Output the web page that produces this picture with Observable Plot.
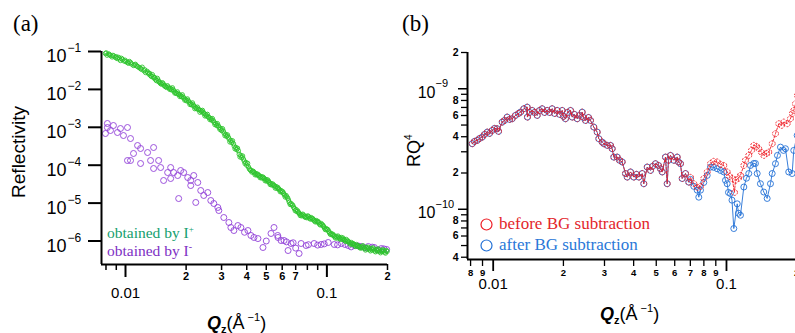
<!DOCTYPE html>
<html><head><meta charset="utf-8">
<script src="https://cdn.jsdelivr.net/npm/d3@7"></script>
<script src="https://cdn.jsdelivr.net/npm/@observablehq/plot@0.6"></script>
<style>
html,body{margin:0;padding:0;background:#fff;overflow:hidden;width:795px;height:333px;}
#pa{position:absolute;left:0;top:0;width:395px;height:333px;}
#pb{position:absolute;left:395px;top:0;width:410px;height:333px;}
</style></head><body><div id="pa"></div><div id="pb"></div>
<script>
// ---------- Panel (a) data ----------
const greenQ = [0.00795,0.00810,0.00825,0.00842,0.00858,0.00875,0.00892,0.00910,0.00925,0.00944,0.00965,0.00985,0.01005,0.01023,0.01045,0.01070,0.01096,0.01120,0.01150,0.01188,0.01210,0.01235,0.01258,0.01280,0.01305,0.01332,0.01360,0.01385,0.01411,0.01440,0.01465,0.01494,0.01525,0.01555,0.01582,0.01615,0.01645,0.01676,0.01710,0.01740,0.01775,0.01810,0.01845,0.01879,0.01915,0.01950,0.01991,0.02030,0.02070,0.02108,0.02150,0.02190,0.02233,0.02275,0.02320,0.02364,0.02410,0.02455,0.02504,0.02550,0.02600,0.02652,0.02700,0.02755,0.02808,0.02860,0.02915,0.02974,0.03030,0.03090,0.03150,0.03210,0.03270,0.03336,0.03400,0.03465,0.03533,0.03600,0.03670,0.03741,0.03815,0.03890,0.03962,0.04040,0.04120,0.04196,0.04280,0.04360,0.04444,0.04530,0.04620,0.04706,0.04800,0.04890,0.04985,0.05080,0.05180,0.05279,0.05380,0.05490,0.05590,0.05700,0.05810,0.05921,0.06040,0.06150,0.06270,0.06390,0.06510,0.06640,0.06770,0.06900,0.07032,0.07170,0.07300,0.07447,0.07590,0.07740,0.07887,0.08040,0.08200,0.08352,0.08510,0.08680,0.08845,0.09020,0.09190,0.09368,0.09550,0.09730,0.09920,0.1011,0.1031,0.1051,0.1072,0.1092,0.1113,0.1135,0.1157,0.1179,0.1202,0.1225,0.1248,0.1273,0.1297,0.1322,0.1348,0.1374,0.1400,0.1427,0.1455,0.1482,0.1511,0.1540,0.1570,0.1600,0.1631,0.1662,0.1695,0.1728,0.1761,0.1795,0.1830,0.1865,0.1900,0.1937,0.1975];
const greenR = [0.0885,0.0800,0.0860,0.0784,0.0720,0.0760,0.0695,0.0650,0.0700,0.0579,0.0620,0.0560,0.0540,0.0513,0.0545,0.0470,0.0428,0.0460,0.0400,0.0356,0.0385,0.0310,0.0279,0.0300,0.0255,0.0233,0.0245,0.0200,0.0182,0.0195,0.0160,0.0143,0.0150,0.0128,0.0119,0.0125,0.0108,0.01057,0.0110,0.0090,0.00828,0.0086,0.0073,0.00690,0.0072,0.0059,0.00542,0.0056,0.0046,0.00425,0.0044,0.0036,0.00333,0.0034,0.0029,0.00277,0.0028,0.0023,0.00218,0.0022,0.0018,0.00171,0.0017,0.00135,0.00126,0.00125,0.00100,0.000929,0.00092,0.00070,0.000645,0.00063,0.00049,0.000449,0.00044,0.00032,0.000293,0.00028,0.000195,0.000180,0.000175,0.000128,0.0001178,0.000112,0.000080,7.24e-5,7.0e-5,6.3e-5,6.04e-5,5.8e-5,5.2e-5,5.04e-5,4.9e-5,4.4e-5,4.20e-5,4.1e-5,3.5e-5,3.29e-5,3.2e-5,2.85e-5,2.74e-5,2.6e-5,2.25e-5,2.15e-5,2.0e-5,1.65e-5,1.59e-5,1.35e-5,1.05e-5,9.76e-6,8.8e-6,7.2e-6,6.78e-6,6.2e-6,5.3e-6,5.00e-6,5.1e-6,4.5e-6,4.43e-6,4.6e-6,4.0e-6,4.17e-6,3.9e-6,3.4e-6,3.48e-6,3.3e-6,2.8e-6,2.90e-6,2.6e-6,2.2e-6,2.14e-6,2.0e-6,1.65e-6,1.58e-6,1.5e-6,1.3e-6,1.32e-6,1.35e-6,1.18e-6,1.24e-6,1.2e-6,1.05e-6,1.10e-6,1.0e-6,8.8e-7,9.13e-7,8.6e-7,7.6e-7,8.09e-7,7.6e-7,6.8e-7,7.16e-7,7.5e-7,6.4e-7,6.74e-7,6.9e-7,5.9e-7,6.34e-7,6.6e-7,5.5e-7,5.97e-7,6.2e-7,5.3e-7,5.61e-7,5.9e-7,5.1e-7,5.61e-7];
// second, interleaved scan of the dense green band
const greenQ2 = [0.00802,0.00833,0.00866,0.00900,0.00935,0.00955,0.00995,0.01035,0.01060,0.01108,0.01135,0.01170,0.01200,0.01245,0.01292,0.01318,0.01345,0.01372,0.01398,0.01425,0.01452,0.01480,0.01510,0.01540,0.01568,0.01598,0.01630,0.01660,0.01693,0.01725,0.01758,0.01792,0.01828,0.01862,0.01897,0.01932,0.01970,0.02010,0.02050,0.02090,0.02130,0.02170,0.02210,0.02255,0.02298,0.02342,0.02388,0.02432,0.02480,0.02525,0.02575,0.02625,0.02675,0.02728,0.02780,0.02835,0.02888,0.02945,0.03000,0.03060,0.03120,0.03180,0.03240,0.03300,0.03370,0.03435,0.03500,0.03565,0.03635,0.03705,0.03780,0.03850,0.03925,0.04000,0.04080,0.04160,0.04240,0.04320,0.04400,0.04490,0.04575,0.04660,0.04750,0.04845,0.04935,0.05030,0.05130,0.05230,0.05330,0.05435,0.05540,0.05645,0.05755,0.05865,0.05980,0.06095,0.06210,0.06330,0.06450,0.06575,0.06700,0.06835,0.06965,0.07100,0.07235,0.07375,0.07515,0.07665,0.07815,0.07965,0.08120,0.08275,0.08430,0.08595,0.08760,0.08930,0.09105,0.09280,0.09460,0.09640,0.09825,0.1001,0.1021,0.1041,0.1061,0.1082,0.1103,0.1124,0.1146,0.1168,0.1190,0.1213,0.1236,0.1260,0.1285,0.1310,0.1335,0.1361,0.1387,0.1414,0.1441,0.1468,0.1497,0.1525,0.1555,0.1585,0.1615,0.1646,0.1678,0.1711,0.1744,0.1778,0.1812,0.1847,0.1882,0.1918,0.1955,0.1990];
const greenR2 = [0.0920,0.0830,0.0790,0.0730,0.0640,0.0660,0.0590,0.0490,0.0510,0.0445,0.0420,0.0375,0.0340,0.0330,0.0275,0.0265,0.0220,0.0215,0.0205,0.0170,0.0175,0.0152,0.0138,0.0140,0.0122,0.0113,0.0115,0.0100,0.0097,0.0098,0.0080,0.0078,0.0076,0.0065,0.0064,0.0063,0.0052,0.0050,0.0050,0.0040,0.0039,0.0039,0.0031,0.0031,0.0030,0.0025,0.0026,0.0025,0.0020,0.0020,0.0019,0.0016,0.00155,0.00150,0.00118,0.00112,0.00110,0.00088,0.00082,0.00080,0.00060,0.00058,0.00055,0.00041,0.00040,0.00037,0.00027,0.00026,0.00024,0.000165,0.000160,0.000145,0.000110,0.000100,9.0e-5,7.6e-5,6.6e-5,6.8e-5,5.6e-5,5.5e-5,5.5e-5,4.7e-5,4.6e-5,4.7e-5,3.9e-5,3.8e-5,3.8e-5,3.1e-5,3.0e-5,3.0e-5,2.5e-5,2.45e-5,2.4e-5,2.0e-5,1.95e-5,1.8e-5,1.45e-5,1.45e-5,1.2e-5,9.2e-6,9.0e-6,7.8e-6,6.3e-6,6.0e-6,5.6e-6,4.7e-6,4.6e-6,4.8e-6,4.2e-6,4.1e-6,4.4e-6,3.8e-6,3.8e-6,3.6e-6,3.2e-6,3.2e-6,3.1e-6,2.65e-6,2.7e-6,2.4e-6,2.0e-6,2.0e-6,1.8e-6,1.5e-6,1.45e-6,1.4e-6,1.2e-6,1.2e-6,1.25e-6,1.1e-6,1.12e-6,1.1e-6,9.8e-7,9.9e-7,9.4e-7,8.2e-7,8.3e-7,8.2e-7,7.2e-7,7.3e-7,7.2e-7,6.5e-7,6.6e-7,6.9e-7,5.8e-7,6.1e-7,6.4e-7,5.5e-7,5.8e-7,6.1e-7,5.2e-7,5.5e-7,5.8e-7,4.9e-7,5.3e-7,5.5e-7,4.8e-7,5.3e-7];

const purpleQ = [0.00795,0.00813,0.00813,0.00842,0.00871,0.00912,0.00944,0.00977,0.01023,0.01023,0.01059,0.01096,0.01059,0.01148,0.01188,0.01188,0.01287,0.01332,0.01379,0.01379,0.01460,0.01494,0.01546,0.01619,0.01676,0.01676,0.01735,0.01816,0.01837,0.01879,0.01945,0.02037,0.02108,0.02182,0.02108,0.02233,0.02285,0.02364,0.02447,0.02562,0.02652,0.02745,0.02874,0.02907,0.03078,0.03261,0.03336,0.03453,0.03614,0.03741,0.0390,0.04054,0.04196,0.04343,0.04547,0.04816,0.0500,0.05279,0.05463,0.0570,0.05719,0.05921,0.06128,0.0630,0.06416,0.06640,0.0680,0.0700,0.07278,0.07447,0.07887,0.0810,0.08644,0.0900,0.09368,0.0970,0.1015,0.1088,0.1130,0.1179,0.1230,0.1277,0.1320,0.1368,0.1430,0.1482,0.1550,0.1606,0.1680,0.1721,0.1800,0.1865,0.1920,0.1980];
const purpleR = [6.86e-4,1.26e-3,9.88e-4,8.23e-4,1.115e-3,7.29e-4,9.29e-4,6.07e-4,9.88e-4,1.33e-4,5.06e-4,2.04e-4,1.33e-4,3.31e-4,2.76e-4,1.11e-4,2.16e-4,1.33e-4,2.93e-4,8.18e-5,1.33e-4,8.69e-5,3.95e-5,6.41e-5,8.69e-5,4.46e-5,6.41e-5,5.35e-5,1.32e-5,7.24e-5,6.41e-5,4.73e-5,3.95e-5,5.35e-5,2.91e-5,1.04e-5,3.50e-5,2.15e-5,1.59e-5,1.90e-5,1.17e-5,9.76e-6,7.66e-6,6.38e-6,4.17e-6,3.08e-6,2.27e-6,1.89e-6,2.56e-6,2.27e-6,1.7e-6,1.89e-6,1.40e-6,1.24e-6,1.16e-6,6.74e-7,1.0e-6,1.58e-6,2.27e-6,1.4e-6,1.24e-6,1.03e-6,1.03e-6,9.5e-7,5.61e-7,8.59e-7,9.0e-7,6.5e-7,4.68e-7,8.59e-7,7.61e-7,8.0e-7,8.59e-7,7.8e-7,8.09e-7,8.4e-7,9.13e-7,8.09e-7,7.9e-7,8.59e-7,8.1e-7,7.61e-7,7.0e-7,7.61e-7,7.4e-7,7.16e-7,6.6e-7,7.16e-7,6.9e-7,6.74e-7,5.8e-7,6.34e-7,6.2e-7,5.97e-7];

const yMajorA = [1e-1,1e-2,1e-3,1e-4,1e-5,1e-6];
const yExpA = ["\u22121","\u22122","\u22123","\u22124","\u22125","\u22126"];
const xMajorA = [0.01,0.1];
const xMajorLabA = ["0.01","0.1"];
const xMinorA = [0.008,0.009,0.02,0.03,0.04,0.05,0.06,0.07,0.08,0.09,0.2];
const xMinorLabA = ["","","2","3","4","5","6","7","","","2"];

// ---------- Panel (b) data ----------
const commonQ = [0.00813,0.00831,0.00854,0.00874,0.00897,0.00918,0.00943,0.00964,0.00990,0.01013,0.01040,0.01054,0.01093,0.01118,0.01148,0.01175,0.01206,0.01246,0.01284,0.01309,0.01353,0.01399,0.01402,0.01431,0.01470,0.01503,0.01544,0.01579,0.01622,0.01659,0.01704,0.01743,0.01790,0.01832,0.01881,0.01924,0.01976,0.02001,0.02041,0.02082,0.02145,0.02181,0.02231,0.02292,0.02344,0.02407,0.02439,0.02487,0.02562,0.02613,0.02699,0.02791,0.02836,0.02932,0.02980,0.03081,0.03183,0.03237,0.03288,0.03401,0.03479,0.03572,0.03691,0.03754,0.03878,0.04006,0.04114,0.04209,0.04353,0.04421,0.04573,0.04724,0.04818,0.04963,0.05111,0.05214,0.05302,0.05477,0.05570,0.05642,0.05754,0.05944,0.06148,0.06226,0.06351,0.06458,0.06673,0.06893];
const commonV = [3.50e-10,3.66e-10,3.73e-10,3.87e-10,3.97e-10,4.18e-10,4.37e-10,4.26e-10,4.51e-10,4.69e-10,4.66e-10,4.43e-10,5.29e-10,5.46e-10,5.82e-10,5.57e-10,5.64e-10,6.01e-10,6.24e-10,6.40e-10,6.83e-10,7.04e-10,5.82e-10,6.36e-10,6.61e-10,6.36e-10,6.01e-10,6.61e-10,6.83e-10,6.36e-10,6.61e-10,6.36e-10,6.83e-10,6.24e-10,6.61e-10,6.13e-10,6.61e-10,5.90e-10,5.64e-10,6.36e-10,6.61e-10,5.82e-10,6.13e-10,5.64e-10,6.01e-10,6.40e-10,5.78e-10,5.46e-10,5.78e-10,5.46e-10,4.81e-10,4.37e-10,3.85e-10,3.61e-10,3.50e-10,3.39e-10,3.39e-10,3.18e-10,2.71e-10,2.71e-10,2.55e-10,2.47e-10,1.98e-10,1.85e-10,2.04e-10,1.85e-10,1.95e-10,1.85e-10,1.98e-10,1.63e-10,2.24e-10,2.10e-10,2.27e-10,2.39e-10,2.31e-10,2.17e-10,2.04e-10,2.71e-10,1.63e-10,2.55e-10,2.80e-10,2.55e-10,2.71e-10,2.47e-10,2.39e-10,1.80e-10,1.98e-10,1.68e-10];
const redTailQ = [0.07010,0.07242,0.07490,0.07737,0.07994,0.08267,0.08540,0.08798,0.09124,0.09427,0.09736,0.1007,0.1030,0.1058,0.1082,0.1093,0.1126,0.1148,0.1187,0.1206,0.1246,0.1280,0.1309,0.1345,0.1375,0.1413,0.1445,0.1484,0.1518,0.1570,0.1622,0.1676,0.1721,0.1760,0.1820,0.1880,0.1918,0.1943,0.1976,0.2015];
const redTailV = [1.84e-10,1.63e-10,1.52e-10,1.55e-10,1.80e-10,2.04e-10,2.39e-10,2.50e-10,2.47e-10,2.36e-10,2.31e-10,2.04e-10,1.88e-10,1.80e-10,1.38e-10,1.74e-10,1.81e-10,1.91e-10,2.31e-10,2.55e-10,2.80e-10,3.08e-10,3.39e-10,3.33e-10,3.18e-10,2.97e-10,2.80e-10,2.91e-10,2.98e-10,3.50e-10,4.24e-10,5.13e-10,4.97e-10,5.29e-10,5.13e-10,5.64e-10,6.24e-10,6.61e-10,7.51e-10,8.80e-10];
const blueTailQ = [0.07010,0.07242,0.07490,0.07609,0.07737,0.07994,0.08267,0.08540,0.08798,0.09124,0.09427,0.09736,0.09902,0.1007,0.1020,0.1040,0.1056,0.1075,0.1112,0.1126,0.1148,0.1187,0.1218,0.1246,0.1267,0.1309,0.1331,0.1354,0.1398,0.1445,0.1494,0.1544,0.1570,0.1622,0.1654,0.1704,0.1755,0.1790,0.1849,0.1912,0.1943,0.2009];
const blueTailV = [1.77e-10,1.55e-10,1.44e-10,1.26e-10,1.44e-10,1.67e-10,1.91e-10,2.24e-10,2.23e-10,2.17e-10,2.10e-10,2.04e-10,1.74e-10,1.63e-10,1.38e-10,1.35e-10,1.19e-10,6.92e-11,1.11e-10,9.27e-11,8.92e-11,1.53e-10,1.81e-10,1.98e-10,2.31e-10,2.40e-10,2.40e-10,1.98e-10,1.63e-10,1.39e-10,1.23e-10,1.63e-10,1.98e-10,2.39e-10,2.80e-10,3.28e-10,3.08e-10,3.18e-10,2.04e-10,1.98e-10,3.08e-10,4.10e-10];

const yMajorB = [1e-9,1e-10];
const yExpB = ["\u22129","\u221210"];
const yMinorB = [4e-11,5e-11,6e-11,7e-11,8e-11,9e-11,2e-10,3e-10,4e-10,5e-10,6e-10,7e-10,8e-10,9e-10,2e-9];
const yMinorLabB = ["4","","6","","8","","2","","4","","6","","8","","2"];
const xMajorB = [0.01,0.1];
const xMajorLabB = ["0.01","0.1"];
const xMinorB = [0.008,0.009,0.02,0.03,0.04,0.05,0.06,0.07,0.08,0.09,0.2];
const xMinorLabB = ["8","9","2","3","4","5","6","7","8","9","2"];

// ---------- colours ----------
const cGreen = "#2ec42e", cPurple = "#9242d8";
const cGreenTxt = "#14a06e", cPurpleTxt = "#7e30c4";
const cRed = "#ee1c24", cBlue = "#2270d6";
const cRedTxt = "#e3262b", cBlueTxt = "#2a78d8";

const SANS = "'Liberation Sans', Arial, sans-serif";
const SERIF = "'Liberation Serif', 'Times New Roman', serif";

const green = greenQ.map((q, i) => ({q, v: greenR[i]})).concat(greenQ2.map((q, i) => ({q, v: greenR2[i]})));
const purple = purpleQ.map((q, i) => ({q, v: purpleR[i]}));
const redV = commonV.concat(redTailV), blueV = commonV.concat(blueTailV);
const red = commonQ.concat(redTailQ).map((q, i) => ({q, v: redV[i]}));
const blue = commonQ.concat(blueTailQ).map((q, i) => ({q, v: blueV[i]}));

const xDomA = [0.0076, 0.2], yDomA = [2.4e-7, 0.1];
const xDomB = [0.00776, 0.2], yDomB = [3.83e-11, 2e-9];

const plotA = Plot.plot({
  width: 395, height: 333,
  marginLeft: 101, marginRight: 8, marginTop: 51, marginBottom: 69,
  style: {fontFamily: SANS, background: "transparent", color: "#000"},
  x: {type: "log", domain: xDomA, axis: null},
  y: {type: "log", domain: yDomA, axis: null},
  marks: [
    Plot.dot(purple, {x: "q", y: "v", r: 3, stroke: cPurple, fill: "none", strokeWidth: 0.9}),
    Plot.dot(green, {x: "q", y: "v", r: 2.2, stroke: cGreen, fill: "none", strokeWidth: 0.9}),
    Plot.ruleX([xDomA[0]], {strokeWidth: 2}),
    Plot.ruleY([yDomA[0]], {strokeWidth: 2}),
    Plot.axisY({ticks: yMajorA, tickSize: 13, strokeWidth: 2, tickFormat: () => "", label: null}),
    Plot.text(yMajorA, {y: d => d, frameAnchor: "left", textAnchor: "end", dx: -35, dy: 5, text: () => "10", fontSize: 18}),
    Plot.text(yMajorA, {y: d => d, frameAnchor: "left", textAnchor: "start", dx: -34, dy: -3, text: (d, i) => yExpA[i], fontSize: 12}),
    Plot.axisX({ticks: xMajorA, tickSize: 13, strokeWidth: 2, tickFormat: () => "", label: null}),
    Plot.axisX({ticks: xMinorA, tickSize: 6, strokeWidth: 1.5, tickFormat: () => "", label: null}),
    Plot.text(xMinorA, {x: d => d, frameAnchor: "bottom", dy: 15.5, text: (d, i) => xMinorLabA[i], fontSize: 11, fontWeight: "bold"}),
    Plot.text(xMajorA, {x: d => d, frameAnchor: "bottom", dy: 33, text: (d, i) => xMajorLabA[i], fontSize: 15})
  ]
});
document.getElementById("pa").appendChild(plotA);

const plotB = Plot.plot({
  width: 410, height: 333,
  marginLeft: 72, marginRight: 8.8, marginTop: 52, marginBottom: 74,
  style: {fontFamily: SANS, background: "transparent", color: "#000"},
  x: {type: "log", domain: xDomB, axis: null},
  y: {type: "log", domain: yDomB, axis: null},
  marks: [
    Plot.line(blue, {x: "q", y: "v", stroke: cBlue, strokeWidth: 0.9}),
    Plot.dot(blue, {x: "q", y: "v", r: 3, stroke: cBlue, fill: "none", strokeWidth: 0.9}),
    Plot.line(red, {x: "q", y: "v", stroke: cRed, strokeWidth: 0.9, strokeDasharray: "2.5,1.5"}),
    Plot.dot(red, {x: "q", y: "v", r: 3, stroke: cRed, fill: "none", strokeWidth: 0.9, strokeDasharray: "2,1.2"}),
    Plot.ruleX([xDomB[0]], {strokeWidth: 2}),
    Plot.ruleY([yDomB[0]], {strokeWidth: 2}),
    Plot.axisY({ticks: yMajorB, tickSize: 9, strokeWidth: 1.5, tickFormat: () => "", label: null}),
    Plot.axisY({ticks: yMinorB, tickSize: 6, strokeWidth: 1.3, tickFormat: () => "", label: null}),
    Plot.text(yMajorB, {y: d => d, frameAnchor: "left", textAnchor: "end", dx: -32, dy: 4, text: () => "10", fontSize: 16}),
    Plot.text(yMajorB, {y: d => d, frameAnchor: "left", textAnchor: "start", dx: -32, dy: -5, text: (d, i) => yExpB[i], fontSize: 11}),
    Plot.text(yMinorB, {y: d => d, frameAnchor: "left", textAnchor: "end", dx: -9, dy: 0, text: (d, i) => yMinorLabB[i], fontSize: 10.5, fontWeight: "bold"}),
    Plot.axisX({ticks: xMajorB, tickSize: 12, strokeWidth: 1.8, tickFormat: () => "", label: null}),
    Plot.axisX({ticks: xMinorB, tickSize: 7, strokeWidth: 1.3, tickFormat: () => "", label: null}),
    Plot.text(xMinorB, {x: d => d, frameAnchor: "bottom", dy: 16, text: (d, i) => xMinorLabB[i], fontSize: 9.5, fontWeight: "bold"}),
    Plot.text(xMajorB, {x: d => d, frameAnchor: "bottom", dy: 29, text: (d, i) => xMajorLabB[i], fontSize: 15}),
    Plot.dot([0], {frameAnchor: "bottom-left", dx: 19, dy: -35, r: 5.5, stroke: cRed, fill: "none", strokeWidth: 1.2}),
    Plot.dot([0], {frameAnchor: "bottom-left", dx: 19, dy: -14, r: 5.5, stroke: cBlue, fill: "none", strokeWidth: 1.2})
  ]
});
document.getElementById("pb").appendChild(plotB);

// ---------- composite texts (super/subscripts) ----------
function addText(svg, x, y, parts, base, rotate) {
  const t = d3.select(svg).append("text")
    .attr("font-family", base.family || SANS)
    .attr("fill", base.fill || "#000")
    .attr("text-anchor", base.anchor || "start");
  if (rotate) t.attr("transform", `translate(${x},${y}) rotate(-90)`).attr("x", 0).attr("y", 0);
  else t.attr("x", x).attr("y", y);
  for (const p of parts) {
    const s = t.append("tspan").text(p.t).attr("font-size", p.size);
    if (p.dy) s.attr("dy", p.dy);
    if (p.italic) s.attr("font-style", "italic");
    if (p.bold) s.attr("font-weight", "bold");
  }
  return t;
}
function qTitle(svg, x, y) {
  addText(svg, x, y, [
    {t: "Q", size: 18, italic: true, bold: true},
    {t: "z", size: 11, bold: true, dy: 4},
    {t: "(\u00C5", size: 18, dy: -4},
    {t: " \u22121", size: 11, dy: -8},
    {t: ")", size: 18, dy: 8}
  ], {});
}
// panel labels
addText(plotA, 13, 31, [{t: "(a)", size: 23}], {family: SERIF});
addText(plotB, 7, 31, [{t: "(b)", size: 23}], {family: SERIF});
// axis titles
qTitle(plotA, 207, 329);
qTitle(plotB, 205, 320);
addText(plotA, 25, 152, [{t: "Reflectivity", size: 19}], {anchor: "middle"}, true);
addText(plotB, 25, 167, [{t: "RQ", size: 18}, {t: "4", size: 10, dy: -8}], {}, true);
// legends
addText(plotA, 107, 238, [{t: "obtained by I", size: 15.5}, {t: "+", size: 9, dy: -6}], {family: SERIF, fill: cGreenTxt});
addText(plotA, 107, 256, [{t: "obtained by I", size: 15.5}, {t: "-", size: 10, dy: -6}], {family: SERIF, fill: cPurpleTxt});
addText(plotB, 104, 228.5, [{t: "before BG subtraction", size: 17}], {family: SERIF, fill: cRedTxt});
addText(plotB, 104, 250, [{t: "after BG subtraction", size: 17}], {family: SERIF, fill: cBlueTxt});
</script></body></html>
